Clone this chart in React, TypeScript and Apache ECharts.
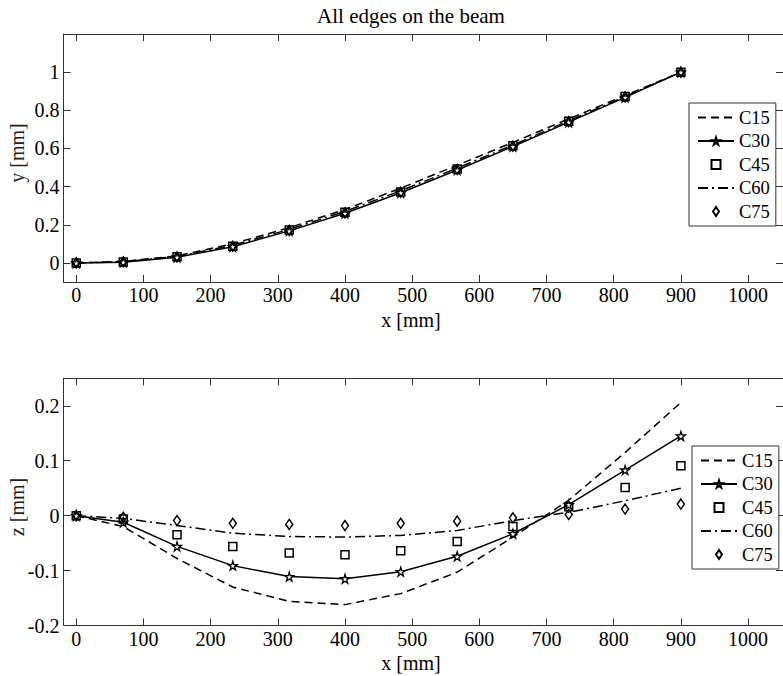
import React, { useEffect, useRef } from "react";
import * as echarts from "echarts";

const X_MM = [0, 70, 150, 233, 317, 400, 483, 567, 650, 733, 817, 900];

const Y_C15 = [0, 0.008, 0.037, 0.1, 0.185, 0.28, 0.392, 0.512, 0.632, 0.755, 0.878, 1.0];
const Y_C30 = [0, 0.004, 0.03, 0.085, 0.168, 0.26, 0.368, 0.487, 0.61, 0.738, 0.868, 1.0];
const Y_C45 = [0, 0.005, 0.032, 0.088, 0.172, 0.265, 0.372, 0.492, 0.614, 0.742, 0.872, 1.0];
const Y_C60 = [0, 0.006, 0.034, 0.092, 0.176, 0.27, 0.378, 0.497, 0.618, 0.745, 0.872, 1.0];
const Y_C75 = [0, 0.005, 0.031, 0.087, 0.17, 0.262, 0.37, 0.49, 0.612, 0.74, 0.87, 1.0];

const Z_C15 = [0, -0.02, -0.078, -0.13, -0.156, -0.162, -0.142, -0.103, -0.039, 0.028, 0.115, 0.206];
const Z_C30 = [0, -0.012, -0.056, -0.091, -0.111, -0.115, -0.102, -0.074, -0.033, 0.02, 0.083, 0.145];
const Z_C45 = [0, -0.006, -0.035, -0.056, -0.068, -0.071, -0.064, -0.047, -0.02, 0.016, 0.051, 0.091];
const Z_C60 = [0, -0.005, -0.018, -0.032, -0.038, -0.039, -0.036, -0.027, -0.009, 0.006, 0.027, 0.05];
const Z_C75 = [0, -0.003, -0.009, -0.014, -0.016, -0.018, -0.014, -0.01, -0.004, 0.002, 0.012, 0.021];

const X_TICKS = [0, 100, 200, 300, 400, 500, 600, 700, 800, 900, 1000];
const Y_TICKS = [0, 0.2, 0.4, 0.6, 0.8, 1];
const Z_TICKS = [-0.2, -0.1, 0, 0.1, 0.2];

const TITLE = "All edges on the beam";
const X_LABEL = "x [mm]";
const Y_LABEL = "y [mm]";
const Z_LABEL = "z [mm]";

const FONT = "Times New Roman, Liberation Serif, DejaVu Serif, serif";
const AXIS_COLOR = "#333";
const CLEAR = "rgba(0,0,0,0)";
const STAR = "path://M50,0 L61,35 98,35 68,57 79,91 50,70 21,91 32,57 2,35 39,35 Z";
const DIAMOND = "path://M4,0 L8,6 4,12 0,6 Z";
const SQUARE = "path://M0,0 L10,0 10,10 0,10 Z";

const pairs = (ys: number[]) => X_MM.map((x, i) => [x, ys[i]]);

function makeSeries(gridIdx: number, values: number[][]) {
  const xi = gridIdx * 2;
  const yi = gridIdx * 2;
  const base = { xAxisIndex: xi, yAxisIndex: yi, animation: false, silent: true };
  return [
    {
      ...base,
      name: "C15",
      type: "line",
      data: pairs(values[0]),
      symbol: "none",
      lineStyle: { color: "#000", width: 1.5, type: [8, 5] },
      itemStyle: { color: CLEAR, borderColor: CLEAR, borderWidth: 0 },
      z: 3,
    },
    {
      ...base,
      name: "C30",
      type: "line",
      data: pairs(values[1]),
      symbol: STAR,
      symbolSize: 9,
      showSymbol: true,
      lineStyle: { color: "#000", width: 1.5, type: "solid" },
      itemStyle: { color: "#fff", borderColor: "#000", borderWidth: 1.3 },
      z: 4,
    },
    {
      ...base,
      name: "C45",
      type: "scatter",
      data: pairs(values[2]),
      symbol: "rect",
      symbolSize: 8,
      itemStyle: { color: CLEAR, borderColor: "#000", borderWidth: 1.5, opacity: 1 },
      z: 4,
    },
    {
      ...base,
      name: "C60",
      type: "line",
      data: pairs(values[3]),
      symbol: "none",
      lineStyle: { color: "#000", width: 1.5, type: [10, 4, 2, 4] },
      itemStyle: { color: CLEAR, borderColor: CLEAR, borderWidth: 0 },
      z: 3,
    },
    {
      ...base,
      name: "C75",
      type: "scatter",
      data: pairs(values[4]),
      symbol: DIAMOND,
      symbolSize: [7, 10],
      symbolKeepAspect: false,
      itemStyle: { color: CLEAR, borderColor: "#000", borderWidth: 1.5, opacity: 1 },
      z: 4,
    },
  ];
}

function makeXAxes(gridIndex: number) {
  const common = {
    gridIndex,
    type: "value",
    min: -19,
    max: 1052,
    splitLine: { show: false },
    axisLine: { show: true, onZero: false, lineStyle: { color: AXIS_COLOR, width: 1 } },
    axisTick: { show: true, inside: true, length: 7, customValues: X_TICKS, lineStyle: { color: AXIS_COLOR } },
  };
  return [
    {
      ...common,
      position: "bottom",
      axisLabel: {
        show: true,
        customValues: X_TICKS,
        fontFamily: FONT,
        fontSize: 20,
        color: "#000",
        margin: 3,
        formatter: (v: number) => String(v),
      },
    },
    {
      ...common,
      position: "top",
      axisLabel: { show: false },
    },
  ];
}

function makeYAxes(gridIndex: number, min: number, max: number, ticks: number[]) {
  const common = {
    gridIndex,
    type: "value",
    min,
    max,
    splitLine: { show: false },
    axisLine: { show: true, onZero: false, lineStyle: { color: AXIS_COLOR, width: 1 } },
    axisTick: { show: true, inside: true, length: 7, customValues: ticks, lineStyle: { color: AXIS_COLOR } },
  };
  return [
    {
      ...common,
      position: "left",
      axisLabel: {
        show: true,
        customValues: ticks,
        fontFamily: FONT,
        fontSize: 20,
        color: "#000",
        margin: 4,
        formatter: (v: number) => String(Math.round(v * 1000) / 1000),
      },
    },
    {
      ...common,
      position: "right",
      axisLabel: { show: false },
    },
  ];
}

function makeLegend(left: number, top: number) {
  return {
    show: true,
    orient: "vertical",
    left,
    top,
    data: [
      { name: "C15", itemStyle: { color: CLEAR, borderColor: CLEAR, borderWidth: 0 } },
      { name: "C30" },
      { name: "C45", icon: SQUARE },
      { name: "C60", itemStyle: { color: CLEAR, borderColor: CLEAR, borderWidth: 0 } },
      { name: "C75" },
    ],
    selectedMode: false,
    backgroundColor: "#fff",
    borderColor: AXIS_COLOR,
    borderWidth: 1,
    borderRadius: 0,
    padding: [5, 6, 5, 8],
    itemWidth: 36,
    itemHeight: 9,
    itemGap: 4.5,
    symbolKeepAspect: true,
    textStyle: { fontFamily: FONT, fontSize: 18.5, color: "#000", lineHeight: 18 },
  };
}

export default function App() {
  const ref = useRef<HTMLDivElement>(null);

  useEffect(() => {
    if (!ref.current) return;
    const chart = echarts.init(ref.current, null, { renderer: "svg", width: 783, height: 676 });

    const option: any = {
      animation: false,
      backgroundColor: "#fff",
      textStyle: { fontFamily: FONT },
      grid: [
        { left: 63.5, top: 34, width: 721.2, height: 248, containLabel: false },
        { left: 63.5, top: 378.3, width: 721.2, height: 247.2, containLabel: false },
      ],
      xAxis: [...makeXAxes(0), ...makeXAxes(1)],
      yAxis: [...makeYAxes(0, -0.1, 1.2, Y_TICKS), ...makeYAxes(1, -0.2, 0.25, Z_TICKS)],
      legend: [makeLegend(689, 103), makeLegend(692, 446)],
      series: [
        ...makeSeries(0, [Y_C15, Y_C30, Y_C45, Y_C60, Y_C75]),
        ...makeSeries(1, [Z_C15, Z_C30, Z_C45, Z_C60, Z_C75]),
      ],
      graphic: [
        {
          type: "text",
          x: 411,
          y: 16,
          style: { text: TITLE, fontFamily: FONT, fontSize: 21, fill: "#000", align: "center", verticalAlign: "middle" },
        },
        {
          type: "text",
          x: 411,
          y: 320,
          style: { text: X_LABEL, fontFamily: FONT, fontSize: 20, fill: "#000", align: "center", verticalAlign: "middle" },
        },
        {
          type: "text",
          x: 411,
          y: 663,
          style: { text: X_LABEL, fontFamily: FONT, fontSize: 20, fill: "#000", align: "center", verticalAlign: "middle" },
        },
        {
          type: "text",
          x: 17,
          y: 153,
          rotation: Math.PI / 2,
          style: { text: Y_LABEL, fontFamily: FONT, fontSize: 20, fill: "#2a1c14", align: "center", verticalAlign: "middle" },
        },
        {
          type: "text",
          x: 17,
          y: 507,
          rotation: Math.PI / 2,
          style: { text: Z_LABEL, fontFamily: FONT, fontSize: 20, fill: "#2a1c14", align: "center", verticalAlign: "middle" },
        },
      ],
    };

    chart.setOption(option);
    return () => {
      chart.dispose();
    };
  }, []);

  return (
    <div
      ref={ref}
      style={{ position: "fixed", left: 0, top: 0, width: 783, height: 676, background: "#fff" }}
    />
  );
}
